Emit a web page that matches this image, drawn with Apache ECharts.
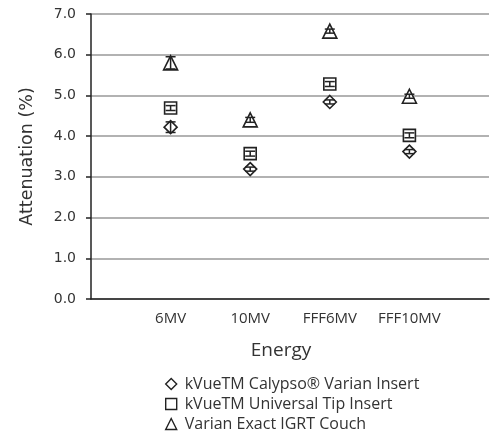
<!DOCTYPE html>
<html><head><meta charset="utf-8">
<script src="https://cdn.jsdelivr.net/npm/echarts@6/dist/echarts.min.js"></script>
<style>html,body{margin:0;padding:0;background:#fff}#c{width:492px;height:438px}</style>
</head><body><div id="c"></div>
<script>
const categories = ['', '6MV', '10MV', 'FFF6MV', 'FFF10MV', ''];
const energies = ['6MV', '10MV', 'FFF6MV', 'FFF10MV'];
const seriesNames = ['kVueTM Calypso® Varian Insert', 'kVueTM Universal Tip Insert', 'Varian Exact IGRT Couch'];
const calypso = [4.22, 3.19, 4.84, 3.62];
const universal = [4.69, 3.57, 5.28, 4.02];
const couch = [5.80, 4.40, 6.58, 4.98];
const calypsoErr = [0.13, 0.05, 0.05, 0.05];
const universalErr = [0.06, 0.06, 0.06, 0.06];
const couchErr = [0.15, 0.06, 0.05, 0.05];
const yTicks = [0, 1, 2, 3, 4, 5, 6, 7];

const chart = echarts.init(document.getElementById('c'), null, {renderer: 'canvas'});
const ink = '#222';
function pts(vals) { return energies.map((e, i) => [e, vals[i]]); }
function errData(vals, errs) { return energies.map((e, i) => [e, vals[i] - errs[i], vals[i] + errs[i]]); }
function errSeries(vals, errs) {
  return {
    type: 'custom', silent: true, z: 3,
    data: errData(vals, errs),
    renderItem: function (params, api) {
      const lo = api.coord([api.value(0), api.value(1)]);
      const hi = api.coord([api.value(0), api.value(2)]);
      const w = 5;
      const st = {stroke: ink, lineWidth: 1.5, fill: null};
      return {type: 'group', children: [
        {type: 'line', shape: {x1: lo[0], y1: lo[1], x2: hi[0], y2: hi[1]}, style: st},
        {type: 'line', shape: {x1: lo[0] - w, y1: lo[1], x2: lo[0] + w, y2: lo[1]}, style: st},
        {type: 'line', shape: {x1: hi[0] - w, y1: hi[1], x2: hi[0] + w, y2: hi[1]}, style: st}
      ]};
    }
  };
}
function scat(name, vals, symbol, size) {
  return {
    name: name, type: 'scatter', symbol: symbol, symbolSize: size, z: 2,
    itemStyle: {color: '#fff', borderColor: ink, borderWidth: 1.6, opacity: 1},
    data: pts(vals)
  };
}
chart.setOption({
  animation: false,
  backgroundColor: '#fff',
  grid: {left: 91, top: 14, right: 1, bottom: 139},
  legend: {
    orient: 'vertical', left: 160, top: 371, height: 80, itemWidth: 11, itemHeight: 11, itemGap: 4,
    textStyle: {fontFamily: 'Open Sans', fontSize: 16, color: '#333', padding: [0, 0, 0, 3]},
    data: [
      {name: seriesNames[0], icon: 'diamond'},
      {name: seriesNames[1], icon: 'rect'},
      {name: seriesNames[2], icon: 'triangle'}
    ],
    itemStyle: {color: '#fff', borderColor: ink, borderWidth: 1.4}
  },
  xAxis: {
    type: 'category', data: categories, boundaryGap: false,
    axisLine: {lineStyle: {color: ink, width: 1.5}},
    axisTick: {show: false},
    axisLabel: {interval: 0, margin: 12, fontFamily: 'Open Sans', fontSize: 15, color: '#333'},
    name: 'Energy', nameLocation: 'middle', nameGap: 42,
    nameTextStyle: {fontFamily: 'Open Sans', fontSize: 19, color: '#333', padding: [0, 18, 0, 0]},
    splitLine: {show: false}
  },
  yAxis: {
    type: 'value', min: yTicks[0], max: yTicks[yTicks.length - 1], interval: 1,
    axisLine: {show: true, lineStyle: {color: ink, width: 1.5}},
    axisTick: {show: true, inside: false, length: 5, lineStyle: {color: ink, width: 1.5}},
    axisLabel: {margin: 15, fontFamily: 'DejaVu Sans', fontSize: 14, color: '#333',
      formatter: v => v.toFixed(1)},
    splitLine: {lineStyle: {color: '#999', width: 1.5}},
    name: 'Attenuation (%)', nameLocation: 'middle', nameGap: 55, nameRotate: 90,
    nameTextStyle: {fontFamily: 'DejaVu Sans', fontSize: 17.5, color: '#333'}
  },
  series: [
    scat(seriesNames[0], calypso, 'diamond', 13),
    scat(seriesNames[1], universal, 'rect', 12),
    scat(seriesNames[2], couch, 'triangle', 14),
    errSeries(calypso, calypsoErr),
    errSeries(universal, universalErr),
    errSeries(couch, couchErr)
  ]
});
</script></body></html>
